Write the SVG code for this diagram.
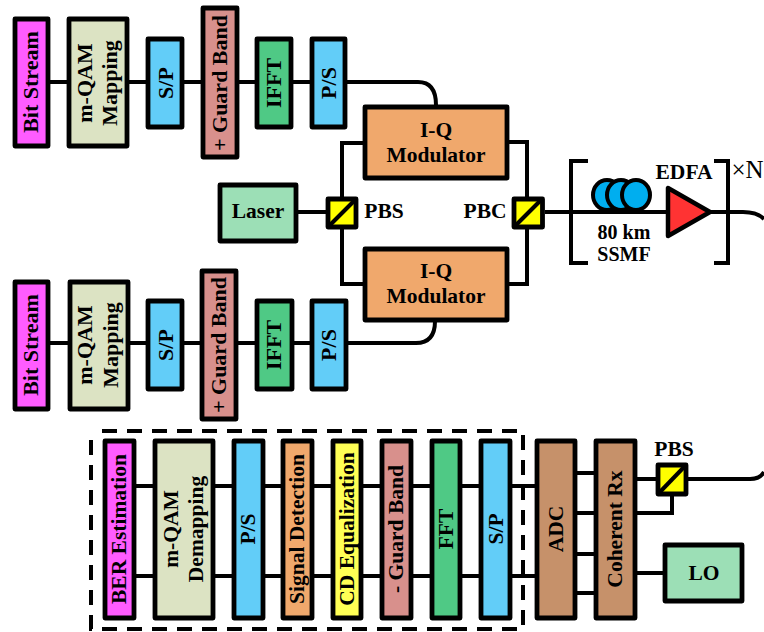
<svg xmlns="http://www.w3.org/2000/svg" width="764" height="632" viewBox="0 0 764 632">
<style>
.b{stroke:#000;stroke-width:4.8;stroke-linejoin:round}
.w{fill:none;stroke:#000;stroke-width:4}
text{font-family:"Liberation Serif","Times New Roman",serif;font-weight:bold;font-size:21.5px;fill:#000;text-anchor:middle}
.t{font-size:22px}
.s{font-size:20px}
.pink{fill:#ff5cff}.sage{fill:#dce3c3}.sky{fill:#62cdf8}.rose{fill:#d8908c}.green{fill:#4fc985}.mint{fill:#9cdfb6}.orange{fill:#f0a86c}.yellow{fill:#ffff55}.brown{fill:#c6916a}.cube{fill:#ffff00}
</style>
<rect width="764" height="632" fill="#fff"/>
<g id="connectors">
<path class="w" d="M48 82H69M127 82H148M182 82H203M237 82H257M291 82H312M345 82H418Q436 82 436 105"/>
<path class="w" d="M48 343H69M127 343H148M182 343H203M237 343H257M291 343H312M345 343H416Q435 343 435 321"/>
<path class="w" d="M365 143H342V199M342 227V284H365M507 142H527V199M527 227V284H507M297 212H328M545 212H668M710 212H743Q757 212 764 219"/>
<path class="w" d="M134 486H155M213 486H234M263 486H283M312 486H333M361 486H382M411 486H432M460 486H481M510 486H537"/>
<path class="w" d="M134 576H155M213 576H234M263 576H283M312 576H333M361 576H382M411 576H432M460 576H481M510 576H537"/>
<path class="w" d="M575 473H596M575 513H596M575 554H596M575 593H596M635 479H658M635 513H672V494M635 573H665M686 479H750Q760 479 764 472"/>
<path class="w" d="M588 161H571V263H588M714 161H728V263H714"/>
<path d="M102 431H523V629H91V431" fill="none" stroke="#000" stroke-width="4" stroke-dasharray="15 10"/>
</g>
<g id="bit-stream-1"><rect class="b pink" x="15" y="19" width="33" height="127"/><text class="t" transform="translate(38 82) rotate(-90)">Bit Stream</text></g>
<g id="mapping-1"><rect class="b sage" x="69" y="19" width="58" height="127"/><text class="t" transform="translate(92 83) rotate(-90)">m-QAM</text><text class="t" transform="translate(117 83) rotate(-90)">Mapping</text></g>
<g id="sp-1"><rect class="b sky" x="148" y="39" width="34" height="88"/><text class="t" transform="translate(173 83) rotate(-90)">S/P</text></g>
<g id="guard-1"><rect class="b rose" x="203" y="8" width="34" height="149"/><text class="t" transform="translate(227 83) rotate(-90)">+ Guard Band</text></g>
<g id="ifft-1"><rect class="b green" x="257" y="39" width="34" height="88"/><text class="t" transform="translate(281 83) rotate(-90)">IFFT</text></g>
<g id="ps-1"><rect class="b sky" x="312" y="39" width="33" height="88"/><text class="t" transform="translate(336 83) rotate(-90)">P/S</text></g>
<g id="bit-stream-2"><rect class="b pink" x="15" y="282" width="33" height="127"/><text class="t" transform="translate(38 345) rotate(-90)">Bit Stream</text></g>
<g id="mapping-2"><rect class="b sage" x="70" y="282" width="58" height="127"/><text class="t" transform="translate(92 345) rotate(-90)">m-QAM</text><text class="t" transform="translate(118 345) rotate(-90)">Mapping</text></g>
<g id="sp-2"><rect class="b sky" x="148" y="301" width="34" height="88"/><text class="t" transform="translate(173 345) rotate(-90)">S/P</text></g>
<g id="guard-2"><rect class="b rose" x="202" y="271" width="34" height="148"/><text class="t" transform="translate(226 345) rotate(-90)">+ Guard Band</text></g>
<g id="ifft-2"><rect class="b green" x="257" y="301" width="35" height="88"/><text class="t" transform="translate(281 345) rotate(-90)">IFFT</text></g>
<g id="ps-2"><rect class="b sky" x="312" y="301" width="34" height="88"/><text class="t" transform="translate(336 345) rotate(-90)">P/S</text></g>
<g id="modulator-1"><rect class="b orange" x="365" y="107" width="142" height="71"/><text x="436" y="137">I-Q</text><text x="436" y="162">Modulator</text></g>
<g id="modulator-2"><rect class="b orange" x="365" y="249" width="142" height="71"/><text x="436" y="278">I-Q</text><text x="436" y="303">Modulator</text></g>
<g id="laser"><rect class="b mint" x="220" y="185" width="76" height="56"/><text x="258" y="218">Laser</text></g>
<g id="pbs-1"><rect class="b cube" x="328" y="199" width="28" height="28"/><path class="w" d="M328 227L356 199"/><text x="384" y="218">PBS</text></g>
<g id="pbc"><rect class="b cube" x="514" y="199" width="28.500" height="28"/><path class="w" d="M514 227L542 199"/><text x="485" y="218">PBC</text></g>
<g id="fiber"><g fill="#00aeef" stroke="#000" stroke-width="4"><ellipse cx="607" cy="195" rx="14" ry="15"/><ellipse cx="621" cy="195" rx="14" ry="15"/><ellipse cx="636" cy="195" rx="14" ry="15"/></g><text class="s" x="624" y="239">80 km</text><text class="s" x="624" y="261">SSMF</text></g>
<g id="edfa"><path d="M668 188V236L710 212Z" fill="#ff3333" stroke="#000" stroke-width="4.500" stroke-linejoin="round"/><text x="684" y="179">EDFA</text></g>
<text x="731.500" y="178" style="font-weight:normal;font-size:25px;text-anchor:start">×N</text>
<g id="ber"><rect class="b pink" x="105" y="441" width="29" height="177"/><text transform="translate(126 529) rotate(-90)">BER Estimation</text></g>
<g id="demapping"><rect class="b sage" x="155" y="441" width="58" height="177"/><text transform="translate(178 529) rotate(-90)">m-QAM</text><text transform="translate(203 529) rotate(-90)">Demapping</text></g>
<g id="ps-3"><rect class="b sky" x="234" y="441" width="29" height="177"/><text transform="translate(255 529) rotate(-90)">P/S</text></g>
<g id="signal"><rect class="b orange" x="283" y="441" width="29" height="177"/><text transform="translate(304 529) rotate(-90)">Signal Detection</text></g>
<g id="cd"><rect class="b yellow" x="333" y="441" width="28" height="177"/><text transform="translate(354 529) rotate(-90)">CD Equalization</text></g>
<g id="guard-3"><rect class="b rose" x="382" y="441" width="29" height="177"/><text transform="translate(403 529) rotate(-90)">- Guard Band</text></g>
<g id="fft"><rect class="b green" x="432" y="441" width="28" height="177"/><text transform="translate(453 529) rotate(-90)">FFT</text></g>
<g id="sp-3"><rect class="b sky" x="481" y="441" width="29" height="177"/><text transform="translate(503 529) rotate(-90)">S/P</text></g>
<g id="adc"><rect class="b brown" x="537" y="441" width="38" height="177"/><text transform="translate(563 529) rotate(-90)">ADC</text></g>
<g id="coherent"><rect class="b brown" x="596" y="441" width="39" height="177"/><text transform="translate(622 529) rotate(-90)">Coherent Rx</text></g>
<g id="pbs-2"><rect class="b cube" x="658" y="465" width="28" height="29"/><path class="w" d="M658 494L686 465"/><text x="674" y="456">PBS</text></g>
<g id="lo"><rect class="b mint" x="665" y="545" width="77" height="56"/><text x="704" y="580">LO</text></g>
</svg>
